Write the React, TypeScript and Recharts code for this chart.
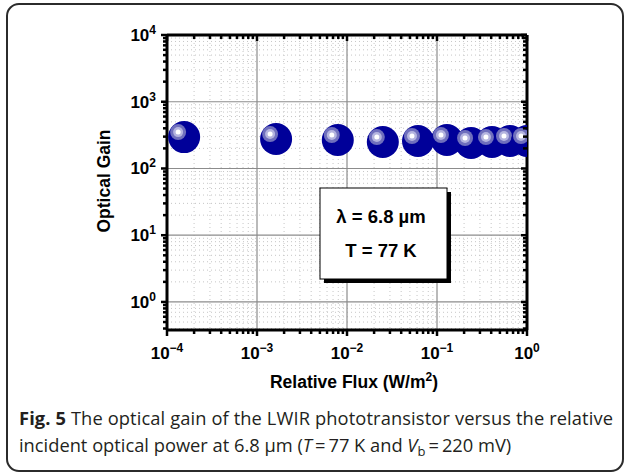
import React from "react";
import {
  ScatterChart,
  Scatter,
  XAxis,
  YAxis,
  CartesianGrid,
} from "recharts";

const fluxValues = [1.55e-4, 1.63e-3, 7.9e-3, 0.025, 0.0615, 0.129, 0.239, 0.408, 0.647, 1.0];
const gainValues = [295, 276, 267, 249, 258, 267, 241, 249, 258, 258];

const xMajorTicks = [1e-4, 1e-3, 1e-2, 1e-1, 1];
const yMajorTicks = [1, 10, 100, 1000, 10000];
const xDomain = [1e-4, 1];
const yDomain = [0.38, 10000];

const minorsBetween = (majors: number[], lo: number, hi: number) => {
  const out: number[] = [];
  [majors[0] / 10, ...majors].forEach((m) => {
    for (let k = 2; k <= 9; k++) {
      const v = m * k;
      if (v >= lo && v <= hi) out.push(v);
    }
  });
  return out;
};

const xMinorTicks = minorsBetween(xMajorTicks, xDomain[0], xDomain[1]);
const yMinorTicks = minorsBetween(yMajorTicks, yDomain[0], yDomain[1]);
const xAllTicks = [...xMajorTicks, ...xMinorTicks].sort((a, b) => a - b);
const yAllTicks = [...yMajorTicks, ...yMinorTicks].sort((a, b) => a - b);

const data = fluxValues.map((flux, i) => ({ flux, gain: gainValues[i] }));

const FONT = "'Liberation Sans', Arial, Helvetica, sans-serif";
const CAPTION_FONT = "'Open Sans', sans-serif";

const isMajor = (v: number) => Math.abs(Math.log10(v) - Math.round(Math.log10(v))) < 1e-6;
const expOf = (v: number) => {
  const e = Math.round(Math.log10(v));
  return e < 0 ? `\u2212${-e}` : `${e}`;
};

const XTick = (props: any) => {
  const { x, y, payload, side } = props;
  const v = payload.value;
  const len = isMajor(v) ? 6 : 4;
  if (side === "top") {
    return <line x1={x} x2={x} y1={y} y2={y + len} stroke="#000" strokeWidth={2.5} />;
  }
  return (
    <g>
      <line x1={x} x2={x} y1={y} y2={y + len} stroke="#000" strokeWidth={2.5} />
      {isMajor(v) && (
        <text x={x} y={y + 29} textAnchor="middle" fontFamily={FONT} fontWeight="bold" fontSize={17} fill="#000">
          <tspan>10</tspan>
          <tspan dy={-7} fontSize={12}>{expOf(v)}</tspan>
        </text>
      )}
    </g>
  );
};

const YTick = (props: any) => {
  const { x, y, payload, side } = props;
  const v = payload.value;
  const len = isMajor(v) ? 6 : 4;
  if (side === "right") {
    return <line x1={x} x2={x - len} y1={y} y2={y} stroke="#000" strokeWidth={2.5} />;
  }
  return (
    <g>
      <line x1={x} x2={x - len} y1={y} y2={y} stroke="#000" strokeWidth={2.5} />
      {isMajor(v) && (
        <text x={x - 11} y={y + 6} textAnchor="end" fontFamily={FONT} fontWeight="bold" fontSize={17} fill="#000">
          <tspan>10</tspan>
          <tspan dy={-7} fontSize={12}>{expOf(v)}</tspan>
        </text>
      )}
    </g>
  );
};

const Ball = (props: any) => {
  const { cx, cy } = props;
  if (cx == null || cy == null) return null;
  return (
    <g>
      <circle cx={cx} cy={cy} r={16} fill="#000099" />
      <circle cx={cx - 6} cy={cy - 5} r={8} fill="#6f6fbd" />
      <circle cx={cx - 6} cy={cy - 5} r={5} fill="#b4b4df" />
      <circle cx={cx - 6} cy={cy - 5} r={2.5} fill="#ffffff" />
    </g>
  );
};

const App = () => {
  return (
    <div style={{ position: "absolute", left: 0, top: 0, width: 625, height: 476, background: "#fff" }}>
      <ScatterChart
        width={625}
        height={476}
        margin={{ top: 34, right: 97, bottom: 116, left: 107 }}
      >
        <CartesianGrid
          horizontalValues={yMinorTicks}
          verticalValues={xMinorTicks}
          stroke="#c6c6c6"
          strokeDasharray="1 3"
        />
        <CartesianGrid
          horizontalValues={yMajorTicks}
          verticalValues={xMajorTicks}
          stroke="#8c8c8c"
          strokeWidth={1.2}
        />
        <XAxis
          dataKey="flux"
          type="number"
          scale="log"
          domain={xDomain}
          ticks={xAllTicks}
          interval={0}
          allowDataOverflow
          height={30}
          tickSize={0}
          tickMargin={0}
          tickLine={false}
          axisLine={{ stroke: "#000", strokeWidth: 3 }}
          tick={<XTick side="bottom" />}
        />
        <XAxis
          xAxisId="top"
          orientation="top"
          dataKey="flux"
          type="number"
          scale="log"
          domain={xDomain}
          ticks={xAllTicks}
          interval={0}
          allowDataOverflow
          height={1}
          tickSize={0}
          tickMargin={0}
          tickLine={false}
          axisLine={{ stroke: "#000", strokeWidth: 3 }}
          tick={<XTick side="top" />}
        />
        <YAxis
          dataKey="gain"
          type="number"
          scale="log"
          domain={yDomain}
          ticks={yAllTicks}
          interval={0}
          allowDataOverflow
          width={60}
          tickSize={0}
          tickMargin={0}
          tickLine={false}
          axisLine={{ stroke: "#000", strokeWidth: 3 }}
          tick={<YTick side="left" />}
        />
        <YAxis
          yAxisId="right"
          orientation="right"
          dataKey="gain"
          type="number"
          scale="log"
          domain={yDomain}
          ticks={yAllTicks}
          interval={0}
          allowDataOverflow
          width={1}
          tickSize={0}
          tickMargin={0}
          tickLine={false}
          axisLine={{ stroke: "#000", strokeWidth: 3 }}
          tick={<YTick side="right" />}
        />
        <Scatter data={data} shape={<Ball />} isAnimationActive={false} />
      </ScatterChart>

      <svg
        width={625}
        height={476}
        style={{ position: "absolute", left: 0, top: 0, pointerEvents: "none" }}
      >
        <rect x={7} y={4} width={616} height={467} rx={12} fill="none" stroke="#2b2b2b" strokeWidth={2} />

        <text
          transform="translate(110,181) rotate(-90)"
          textAnchor="middle"
          fontFamily={FONT}
          fontWeight="bold"
          fontSize={17.5}
          fill="#000"
        >
          Optical Gain
        </text>
        <text x={354} y={388} textAnchor="middle" fontFamily={FONT} fontWeight="bold" fontSize={17.5} fill="#000">
          <tspan>Relative Flux (W/m</tspan>
          <tspan dy={-7} fontSize={12}>2</tspan>
          <tspan dy={7}>)</tspan>
        </text>

        <rect x={324} y={192} width={127} height={91} fill="#000" />
        <rect x={320} y={188} width={127} height={91} fill="#fff" stroke="#000" strokeWidth={1} />
        <text x={381} y={223} textAnchor="middle" fontFamily={FONT} fontWeight="bold" fontSize={18.5} fill="#000">
          λ = 6.8 µm
        </text>
        <text x={381} y={257} textAnchor="middle" fontFamily={FONT} fontWeight="bold" fontSize={18.5} fill="#000">
          T = 77 K
        </text>

        <text x={19} y={425} fontFamily={CAPTION_FONT} fontSize={18.3} fill="#231f20" textLength={594} lengthAdjust="spacing">
          <tspan fontWeight="bold">Fig. 5</tspan>
          <tspan> The optical gain of the LWIR phototransistor versus the relative</tspan>
        </text>
        <text x={19} y={452} fontFamily={CAPTION_FONT} fontSize={18.3} fill="#231f20">
          <tspan>incident optical power at 6.8 µm (</tspan>
          <tspan fontStyle="italic">T</tspan>
          <tspan>{"\u2009=\u200977 K and "}</tspan>
          <tspan fontStyle="italic">V</tspan>
          <tspan dy={4} fontSize={13}>b</tspan>
          <tspan dy={-4}>{"\u2009=\u2009220 mV)"}</tspan>
        </text>
      </svg>
    </div>
  );
};

export default App;
